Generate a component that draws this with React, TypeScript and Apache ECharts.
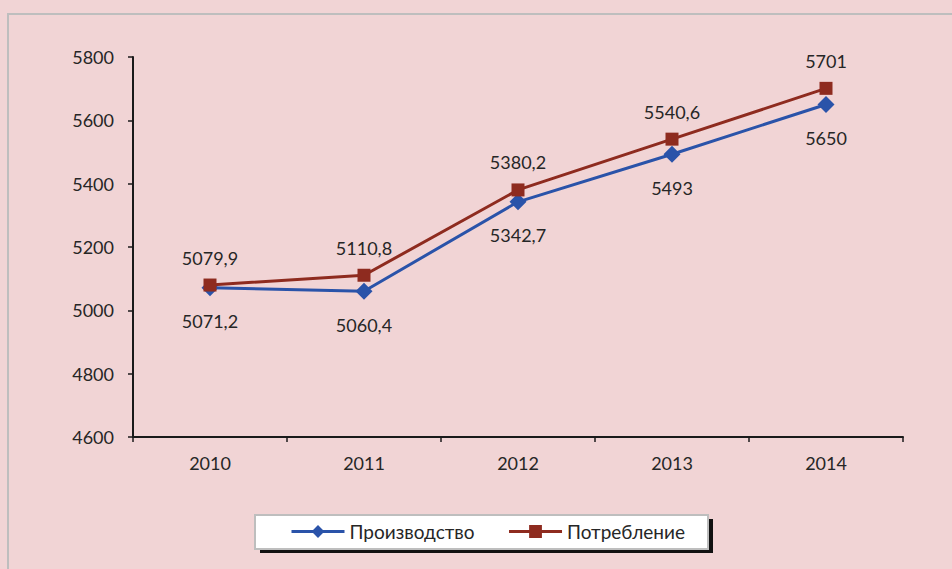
import React, { useEffect, useRef } from "react";
import * as echarts from "echarts";

const years = ["2010", "2011", "2012", "2013", "2014"];
const production = [5071.2, 5060.4, 5342.7, 5493, 5650];
const consumption = [5079.9, 5110.8, 5380.2, 5540.6, 5701];
const seriesNames = ["Производство", "Потребление"];
const yMin = 4600;
const yMax = 5800;
const yStep = 200;

const FONT = "Lato, 'Open Sans', sans-serif";
const fmt = (v: number) => String(v).replace(".", ",");

export default function App() {
  const ref = useRef<HTMLDivElement>(null);
  useEffect(() => {
    if (!ref.current) return;
    const chart = echarts.init(ref.current, undefined, { renderer: "svg" });
    chart.setOption({
      animation: false,
      backgroundColor: "#F1D4D5",
      textStyle: { fontFamily: FONT },
      grid: { left: 133, right: 49, top: 57, bottom: 132 },
      graphic: [
        {
          type: "rect",
          shape: { x: 8, y: 14, width: 960, height: 580 },
          style: { fill: "none", stroke: "#BEBEBE", lineWidth: 2 },
          z: 0,
        },
        {
          type: "rect",
          shape: { x: 260, y: 519, width: 453, height: 34 },
          style: { fill: "#111111" },
          z: 1,
        },
        {
          type: "rect",
          shape: { x: 255, y: 515, width: 453, height: 34 },
          style: { fill: "#FFFFFF", stroke: "#BEBEBE", lineWidth: 2 },
          z: 2,
        },
      ],
      legend: {
        left: 290,
        top: 522,
        padding: 0,
        itemWidth: 53,
        itemHeight: 16,
        itemGap: 33,
        z: 10,
        textStyle: { fontSize: 19, color: "#262626", fontFamily: FONT },
        data: [
          { name: seriesNames[0], lineStyle: { width: 3 } },
          { name: seriesNames[1], lineStyle: { width: 3 } },
        ],
      },
      xAxis: {
        type: "category",
        data: years,
        axisLine: { lineStyle: { color: "#1a1a1a", width: 2 } },
        axisTick: { show: true, length: 5, lineStyle: { color: "#1a1a1a", width: 1.5 } },
        axisLabel: { fontSize: 18, color: "#262626", margin: 17, fontFamily: FONT },
      },
      yAxis: {
        type: "value",
        min: yMin,
        max: yMax,
        interval: yStep,
        splitLine: { show: false },
        axisLine: { show: true, lineStyle: { color: "#1a1a1a", width: 2 } },
        axisTick: { show: true, length: 5, lineStyle: { color: "#1a1a1a", width: 1.5 } },
        axisLabel: {
          fontSize: 18,
          color: "#262626",
          margin: 19,
          fontFamily: FONT,
          formatter: (v: number) => String(v),
        },
      },
      series: [
        {
          name: seriesNames[0],
          type: "line",
          data: production,
          symbol: "diamond",
          symbolSize: 17,
          lineStyle: { color: "#2A53A9", width: 3 },
          itemStyle: { color: "#2A53A9" },
          label: {
            show: true,
            position: "bottom",
            distance: 16,
            fontSize: 18,
            color: "#262626",
            fontFamily: FONT,
            formatter: (p: any) => fmt(p.value),
          },
          z: 3,
        },
        {
          name: seriesNames[1],
          type: "line",
          data: consumption,
          symbol: "rect",
          symbolSize: 13,
          lineStyle: { color: "#8E2B1F", width: 3 },
          itemStyle: { color: "#8E2B1F" },
          label: {
            show: true,
            position: "top",
            distance: 12,
            fontSize: 18,
            color: "#262626",
            fontFamily: FONT,
            formatter: (p: any) => fmt(p.value),
          },
          z: 4,
        },
      ],
    });
    return () => chart.dispose();
  }, []);
  return (
    <div
      ref={ref}
      style={{ position: "fixed", left: 0, top: 0, width: 952, height: 569 }}
    />
  );
}
